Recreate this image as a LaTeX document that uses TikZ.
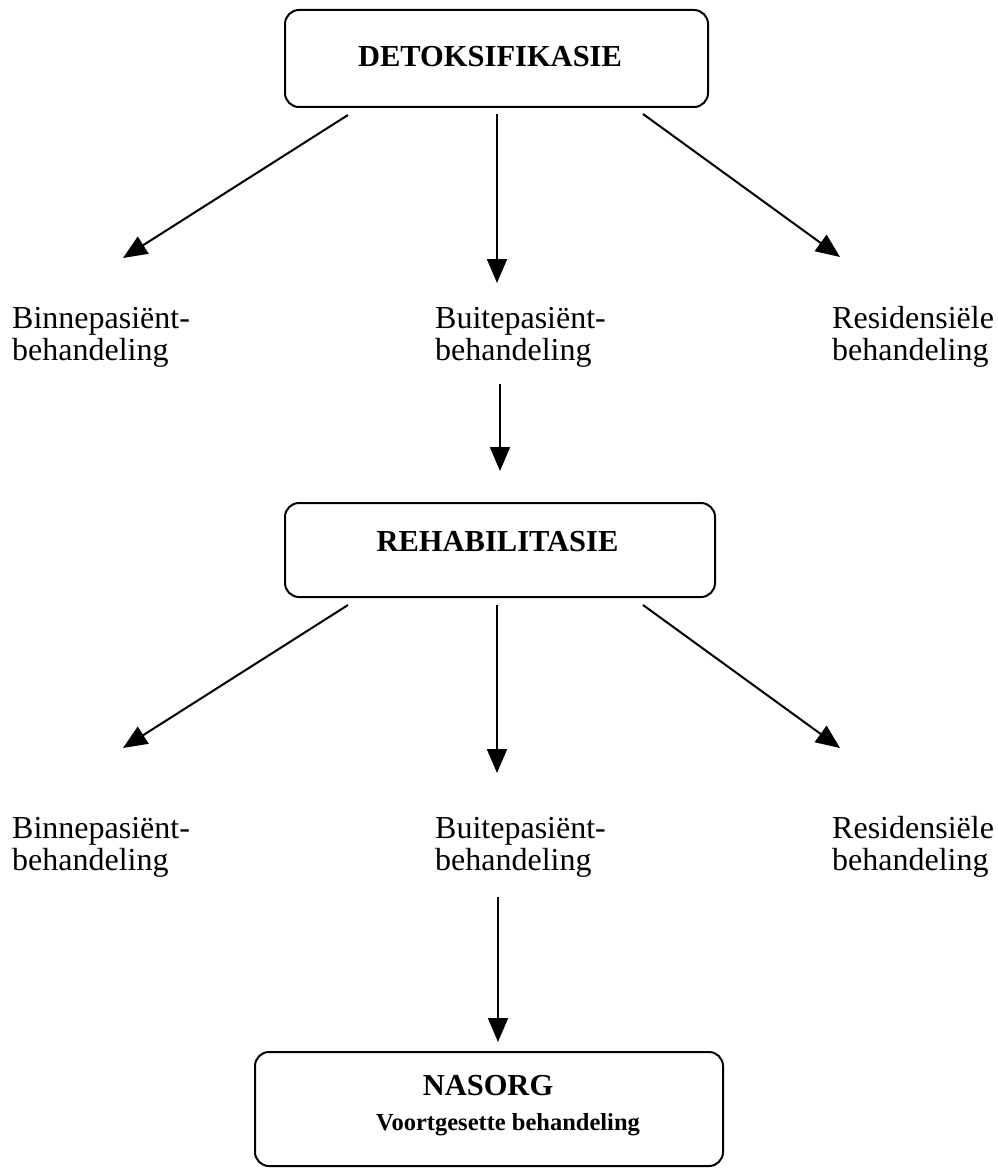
\documentclass[tikz,border=0pt]{standalone}
\usepackage{fontspec}
\setmainfont{Liberation Serif}
\usetikzlibrary{arrows.meta,calc}
\tikzset{
  stagebox/.style={draw, line width=2pt, rounded corners=14pt, rectangle, inner sep=0pt},
  titletext/.style={font=\fontsize{30.5}{30.5}\selectfont\bfseries, inner sep=0pt, anchor=base},
  subtext/.style={font=\fontsize{24.5}{24.5}\selectfont\bfseries, inner sep=0pt, anchor=base},
  lbl/.style={font=\fontsize{32}{32}\selectfont, align=left, inner sep=0pt, anchor=base west},
  arr/.style={line width=2pt, -{Triangle[length=24pt,width=20pt]}},
}
\begin{document}
\begin{tikzpicture}[x=1pt,y=-1pt]
\useasboundingbox (0,0) rectangle (997,1169);
% boxes
\node[stagebox, minimum width=423pt, minimum height=97pt] (detox) at (496.5,58.5) {};
\node[titletext] (detoxT) at (490,67) {DETOKSIFIKASIE};
\node[stagebox, minimum width=430pt, minimum height=94pt] (rehab) at (500,550) {};
\node[titletext] (rehabT) at (497.5,551) {REHABILITASIE};
\node[stagebox, minimum width=468pt, minimum height=114pt] (nasorg) at (489,1109) {};
\node[titletext] (nasorgT) at (488,1095) {NASORG};
\node[subtext] (nasorgS) at (508,1130) {Voortgesette behandeling};
% labels row 1 (base anchor = last line's baseline)
\node[lbl] (bin1) at (12,360) {Binnepasiënt-\\behandeling};
\node[lbl] (bui1) at (435,360) {Buitepasiënt-\\behandeling};
\node[lbl] (res1) at (832,360) {Residensiële\\behandeling};
% labels row 2
\node[lbl] (bin2) at (12,870) {Binnepasiënt-\\behandeling};
\node[lbl] (bui2) at (435,870) {Buitepasiënt-\\behandeling};
\node[lbl] (res2) at (832,870) {Residensiële\\behandeling};
% arrow end points
\coordinate (tb1) at (123,258);
\coordinate (tu1) at (497,283);
\coordinate (tr1) at (840,257);
\coordinate (tb2) at (123,748);
\coordinate (tu2) at (497,773);
\coordinate (tr2) at (840,748);
% arrows
\draw[arr] ($(detox.south)+(-148.5,7)$) -- (tb1);
\draw[arr] ($(detox.south)+(0.5,6)$) -- (tu1);
\draw[arr] ($(detox.south)+(146.5,6)$) -- (tr1);
\draw[arr] ($(rehab.north)+(0,-118)$) -- ($(rehab.north)+(0,-31)$);
\draw[arr] ($(rehab.south)+(-152,7)$) -- (tb2);
\draw[arr] ($(rehab.south)+(-3,7)$) -- (tu2);
\draw[arr] ($(rehab.south)+(143,7)$) -- (tr2);
\draw[arr] ($(nasorg.north)+(9,-154)$) -- ($(nasorg.north)+(9,-9)$);
\end{tikzpicture}
\end{document}
